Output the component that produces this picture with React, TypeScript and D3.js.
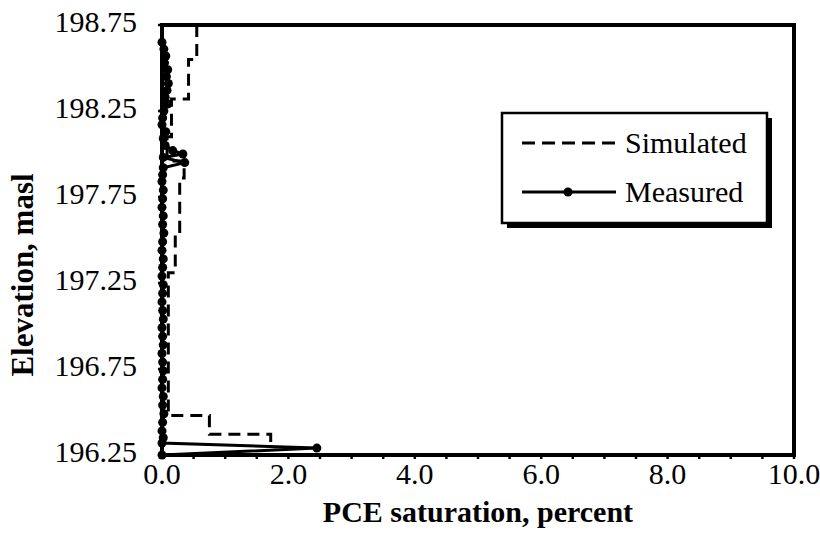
import React, { useEffect, useRef } from 'react';
import * as d3 from 'd3';

// simulated PCE saturation, step profile (layer boundaries in masl, value per layer)
const simBreaks = [198.75, 198.55, 198.32, 198.1, 197.96, 197.86, 197.55, 197.31, 196.48, 196.37, 196.3];
const simValues = [0.55, 0.42, 0.15, 0.08, 0.35, 0.28, 0.21, 0.1, 0.75, 1.72];

// measured PCE saturation
const measElev = [
  198.65, 198.61, 198.57, 198.53, 198.49, 198.45, 198.41, 198.37, 198.33, 198.29,
  198.25, 198.21, 198.17, 198.13, 198.09, 198.05, 198.02, 198.0, 197.98, 197.95,
  197.92, 197.88, 197.84, 197.79, 197.74, 197.69, 197.64, 197.59, 197.54, 197.49,
  197.44, 197.39, 197.34, 197.29, 197.24, 197.19, 197.14, 197.09, 197.04, 196.99,
  196.94, 196.89, 196.84, 196.79, 196.74, 196.69, 196.64, 196.59, 196.54, 196.49,
  196.44, 196.39, 196.35, 196.32, 196.29, 196.25,
];
const measValues = [
  0.0, 0.03, 0.06, 0.04, 0.09, 0.07, 0.1, 0.08, 0.05, 0.09,
  0.03, 0.01, 0.0, 0.06, 0.02, 0.05, 0.17, 0.33, 0.02, 0.36,
  0.02, 0.01, 0.0, 0.02, 0.01, 0.0, 0.02, 0.01, 0.03, 0.01,
  0.0, 0.02, 0.01, 0.0, 0.02, 0.01, 0.0, 0.01, 0.02, 0.0,
  0.01, 0.02, 0.0, 0.01, 0.02, 0.01, 0.0, 0.02, 0.01, 0.03,
  0.01, 0.0, 0.02, 0.0, 2.45, 0.0,
];

const xTickLabels = ['0.0', '2.0', '4.0', '6.0', '8.0', '10.0'];
const yTickLabels = ['196.25', '196.75', '197.25', '197.75', '198.25', '198.75'];
const legendNames = ['Simulated', 'Measured'];

const App = () => {
  const chartRef = useRef<SVGSVGElement>(null);

  useEffect(() => {
    const svg = d3.select(chartRef.current);
    svg.selectAll('*').remove();

    const font = '"Liberation Serif", "Times New Roman", serif';
    const left = 162, right = 794, top = 25, bottom = 455;

    const x = d3.scaleLinear().domain([0, 10]).range([left, right]);
    const y = d3.scaleLinear().domain([196.25, 198.75]).range([bottom, top]);

    // x ticks (minor every 0.5, outward)
    svg.append('g')
      .selectAll('line')
      .data(d3.range(0, 10.001, 0.5))
      .join('line')
      .attr('x1', d => x(d)).attr('x2', d => x(d))
      .attr('y1', bottom).attr('y2', bottom + 4)
      .attr('stroke', '#000').attr('stroke-width', 2.5);

    svg.append('g')
      .selectAll('text')
      .data(xTickLabels)
      .join('text')
      .attr('x', d => x(+d))
      .attr('y', bottom + 29)
      .attr('text-anchor', 'middle')
      .attr('font-family', font).attr('font-size', 30)
      .text(d => d);

    // y ticks and labels
    svg.append('g')
      .selectAll('line')
      .data(yTickLabels)
      .join('line')
      .attr('x1', left - 4).attr('x2', left)
      .attr('y1', d => y(+d)).attr('y2', d => y(+d))
      .attr('stroke', '#000').attr('stroke-width', 2.5);

    svg.append('g')
      .selectAll('text')
      .data(yTickLabels)
      .join('text')
      .attr('x', 137)
      .attr('y', d => y(+d) + 7)
      .attr('text-anchor', 'end')
      .attr('font-family', font).attr('font-size', 30)
      .text(d => d);

    // simulated step line
    const simPts: [number, number][] = [];
    simValues.forEach((v, i) => {
      simPts.push([v, simBreaks[i]]);
      simPts.push([v, simBreaks[i + 1]]);
    });
    const line = d3.line<[number, number]>().x(d => x(d[0])).y(d => y(d[1]));

    svg.append('path')
      .datum(simPts)
      .attr('d', line)
      .attr('fill', 'none')
      .attr('stroke', '#000')
      .attr('stroke-width', 3)
      .attr('stroke-dasharray', '12,7');

    // measured line + markers
    const measPts: [number, number][] = measElev.map((e, i) => [measValues[i], e]);
    svg.append('path')
      .datum(measPts)
      .attr('d', line)
      .attr('fill', 'none')
      .attr('stroke', '#000')
      .attr('stroke-width', 3);

    svg.append('g')
      .selectAll('circle')
      .data(measPts)
      .join('circle')
      .attr('cx', d => x(d[0]))
      .attr('cy', d => y(d[1]))
      .attr('r', 4.5)
      .attr('fill', '#000');

    // plot frame
    svg.append('rect')
      .attr('x', left).attr('y', top)
      .attr('width', right - left).attr('height', bottom - top)
      .attr('fill', 'none')
      .attr('stroke', '#000')
      .attr('stroke-width', 4);

    // legend
    const lg = svg.append('g');
    lg.append('rect')
      .attr('x', 507).attr('y', 118).attr('width', 265).attr('height', 110)
      .attr('fill', '#000');
    lg.append('rect')
      .attr('x', 502).attr('y', 113).attr('width', 265).attr('height', 110)
      .attr('fill', '#fff')
      .attr('stroke', '#000').attr('stroke-width', 2.5);

    legendNames.forEach((name, i) => {
      const ly = 143 + i * 49;
      lg.append('line')
        .attr('x1', 522).attr('x2', 616)
        .attr('y1', ly).attr('y2', ly)
        .attr('stroke', '#000').attr('stroke-width', 3)
        .attr('stroke-dasharray', i === 0 ? '13,7' : null);
      if (i === 1) {
        lg.append('circle').attr('cx', 568).attr('cy', ly).attr('r', 4.5).attr('fill', '#000');
      }
      lg.append('text')
        .attr('x', 625).attr('y', ly + 10)
        .attr('font-family', font).attr('font-size', 30)
        .text(name);
    });

    // axis titles
    svg.append('text')
      .attr('x', (left + right) / 2)
      .attr('y', 522)
      .attr('text-anchor', 'middle')
      .attr('font-family', font).attr('font-size', 30).attr('font-weight', 'bold')
      .text('PCE saturation, percent');

    svg.append('text')
      .attr('transform', 'translate(33,275) rotate(-90)')
      .attr('text-anchor', 'middle')
      .attr('font-family', font).attr('font-size', 31).attr('font-weight', 'bold')
      .text('Elevation, masl');

    return () => {
      svg.selectAll('*').remove();
    };
  }, []);

  return (
    <svg
      ref={chartRef}
      width={820}
      height={535}
      style={{ position: 'absolute', left: 0, top: 0, background: '#fff' }}
    />
  );
};

export default App;
